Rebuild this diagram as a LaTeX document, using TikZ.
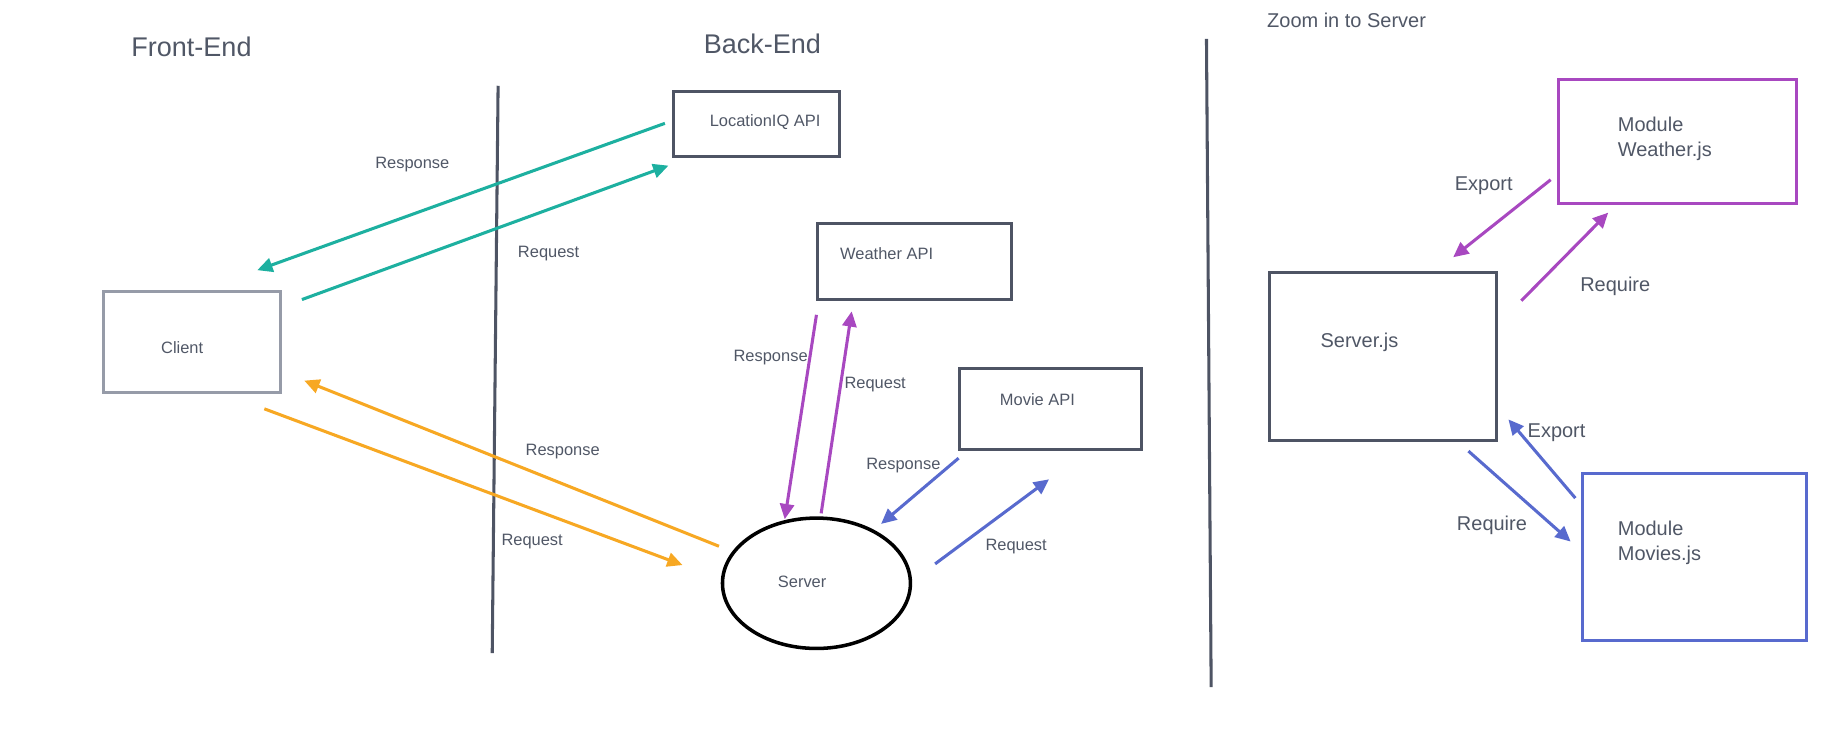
\documentclass[tikz,border=0pt]{standalone}
\usepackage{fontspec}
\setmainfont{Liberation Sans}
\usetikzlibrary{arrows.meta,shapes.geometric}
\definecolor{txt}{RGB}{80,87,102}
\definecolor{dark}{RGB}{78,84,100}
\definecolor{light}{RGB}{150,155,168}
\definecolor{teal}{RGB}{29,176,160}
\definecolor{orng}{RGB}{247,168,35}
\definecolor{purp}{RGB}{168,72,192}
\definecolor{blu}{RGB}{88,106,206}
\tikzset{
  box/.style={draw=dark, line width=2.6pt, rectangle, inner sep=0pt},
  lbl/.style={text=txt, font=\fontsize{14}{17}\selectfont, inner sep=0pt},
  rlbl/.style={text=txt, font=\fontsize{17}{21.5}\selectfont, inner sep=0pt},
  ttl/.style={text=txt, font=\fontsize{23}{27}\selectfont, inner sep=0pt},
  arr/.style={line width=2.6pt, -{Triangle[length=13pt,width=12pt]}},
  divider/.style={draw=dark, line width=2.6pt}
}
\begin{document}
\begin{tikzpicture}[x=1pt,y=-1pt]
\useasboundingbox (0,0) rectangle (1568,637);
% titles
\node[ttl] (fe) at (163,40) {Front-End};
\node[ttl] (be) at (649,37) {Back-End};
\node[text=txt, font=\fontsize{17}{20}\selectfont, inner sep=0pt, anchor=base west] (zs) at (1078.5,23) {Zoom in to Server};
% dividers
\coordinate (d1a) at (424,73); \coordinate (d1b) at (419,556);
\coordinate (d2a) at (1027,33); \coordinate (d2b) at (1031,585);
\draw[divider] (d1a) -- (d1b);
\draw[divider] (d2a) -- (d2b);
% boxes
\node[box, draw=light, minimum width=151pt, minimum height=86pt] (client) at (163.5,291) {};
\node[box, minimum width=142pt, minimum height=55pt] (loc) at (644,105.5) {};
\node[box, minimum width=165pt, minimum height=65pt] (wapi) at (778.5,222.5) {};
\node[box, minimum width=155pt, minimum height=69pt] (mapi) at (894.5,348.5) {};
\node[ellipse, draw=black, line width=3pt, inner sep=0pt, minimum width=160pt, minimum height=111pt] (server) at (695,496.5) {};
\node[box, minimum width=193pt, minimum height=143pt] (sjs) at (1177.5,303.5) {};
\node[box, draw=purp, minimum width=202pt, minimum height=105pt] (wjs) at (1428,120.5) {};
\node[box, draw=blu, minimum width=191pt, minimum height=142pt] (mjs) at (1442.5,474) {};
% box texts
\node[lbl, anchor=west] (tclient) at (137,296) {Client};
\node[lbl, anchor=west] (tloc) at (604,104) {LocationIQ API};
\node[lbl, anchor=west] (twapi) at (715,216) {Weather API};
\node[lbl, anchor=west] (tmapi) at (851,340) {Movie API};
\node[lbl, anchor=west] (tserver) at (662,495) {Server};
\node[rlbl, anchor=west] (tsjs) at (1124,291) {Server.js};
\node[rlbl, anchor=west, align=left] (twjs) at (1377,118) {Module\\Weather.js};
\node[rlbl, anchor=west, align=left] (tmjs) at (1377,462) {Module\\Movies.js};
% arrow endpoints
\coordinate (t1s) at (566,105); \coordinate (t1e) at (219,230);
\coordinate (t2s) at (257,255); \coordinate (t2e) at (569,141);
\coordinate (o1s) at (612,465); \coordinate (o1e) at (259,324);
\coordinate (o2s) at (225,348); \coordinate (o2e) at (581,481);
\coordinate (p1s) at (695,268); \coordinate (p1e) at (668,442);
\coordinate (p2s) at (699,437); \coordinate (p2e) at (725,265);
\coordinate (b1s) at (816,390); \coordinate (b1e) at (750,446);
\coordinate (b2s) at (796,480); \coordinate (b2e) at (893,408);
\coordinate (rp1s) at (1320,153); \coordinate (rp1e) at (1237,219);
\coordinate (rp2s) at (1295,256); \coordinate (rp2e) at (1369,181);
\coordinate (rb1s) at (1341,424); \coordinate (rb1e) at (1284,357);
\coordinate (rb2s) at (1250,384); \coordinate (rb2e) at (1337,461);
% arrows
\draw[arr, teal] (t1s) -- (t1e);
\draw[arr, teal] (t2s) -- (t2e);
\draw[arr, orng] (o1s) -- (o1e);
\draw[arr, orng] (o2s) -- (o2e);
\draw[arr, purp] (p1s) -- (p1e);
\draw[arr, purp] (p2s) -- (p2e);
\draw[arr, blu] (b1s) -- (b1e);
\draw[arr, blu] (b2s) -- (b2e);
\draw[arr, purp] (rp1s) -- (rp1e);
\draw[arr, purp] (rp2s) -- (rp2e);
\draw[arr, blu] (rb1s) -- (rb1e);
\draw[arr, blu] (rb2s) -- (rb2e);
% arrow labels
\node[lbl] (l1) at (351,140) {Response};
\node[lbl] (l2) at (467,216) {Request};
\node[lbl] (l3) at (479,384) {Response};
\node[lbl] (l4) at (453,461) {Request};
\node[lbl] (l5) at (656,304) {Response};
\node[lbl] (l6) at (745,327) {Request};
\node[lbl] (l7) at (769,396) {Response};
\node[lbl] (l8) at (865,465) {Request};
\node[rlbl] (l9) at (1263,158) {Export};
\node[rlbl] (l10) at (1375,244) {Require};
\node[rlbl] (l11) at (1325,368) {Export};
\node[rlbl] (l12) at (1270,447) {Require};
\end{tikzpicture}
\end{document}
